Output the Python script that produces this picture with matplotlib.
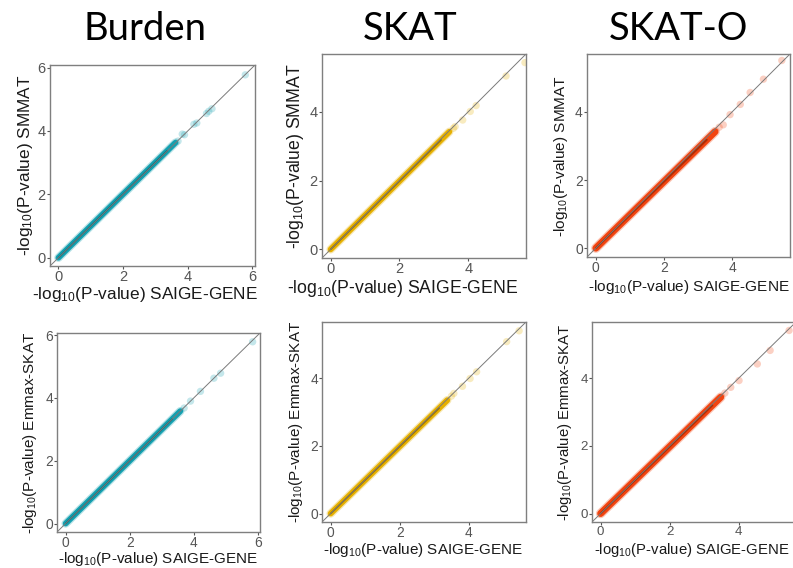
import numpy as np
import matplotlib
matplotlib.use('Agg')
import matplotlib.pyplot as plt

plt.rcParams['font.family'] = ['Liberation Sans', 'DejaVu Sans']
plt.rcParams['mathtext.default'] = 'regular'

W, H = 793, 568

titles = ['Burden', 'SKAT', 'SKAT-O']
title_x = [145, 410, 678]
colors = ['#14a0b0', '#e6b000', '#f24410']
dark_colors = ['#0a6570', '#8f6a00', '#9c2a06']
ylabels = ['SMMAT', 'Emmax-SKAT']
xlabel = '-log$_{10}$(P-value) SAIGE-GENE'

# end of the dense band of points (x, y) per panel, row-major
band_end_x = [3.62, 3.45, 3.50, 3.58, 3.38, 3.48]
band_end_y = [3.63, 3.42, 3.42, 3.58, 3.35, 3.44]
band_width = [4.2, 4.2, 5.0, 4.2, 4.2, 5.0]

# sparse tail points per panel
tail_x = [
    [3.70, 3.83, 3.90, 4.19, 4.28, 4.58, 4.65, 4.75, 5.78],
    [3.57, 3.62, 3.84, 4.06, 4.23, 5.10, 5.65],
    [3.62, 3.74, 3.94, 4.24, 4.53, 4.92, 5.46],
    [3.70, 3.90, 4.21, 4.63, 4.84, 5.84],
    [3.50, 3.57, 3.82, 4.04, 4.23, 5.10, 5.46],
    [3.60, 3.77, 4.01, 4.54, 4.91, 5.46],
]
tail_y = [
    [3.68, 3.90, 3.88, 4.21, 4.25, 4.55, 4.62, 4.70, 5.77],
    [3.52, 3.57, 3.76, 4.01, 4.18, 5.04, 5.43],
    [3.55, 3.62, 3.92, 4.22, 4.57, 4.96, 5.51],
    [3.68, 3.90, 4.21, 4.63, 4.79, 5.79],
    [3.47, 3.55, 3.76, 3.99, 4.19, 5.08, 5.40],
    [3.56, 3.73, 3.93, 4.42, 4.82, 5.41],
]

# axes boxes in pixels: left, top, right, bottom
boxes = [
    (50, 65, 255, 266), (322, 54, 526, 258), (587, 54, 790, 257),
    (57, 333, 260, 532), (322, 322, 526, 522), (592, 322, 796, 522),
]
lims = [
    (-0.26, 6.08), (-0.25, 5.68), (-0.26, 5.70),
    (-0.27, 6.07), (-0.25, 5.66), (-0.25, 5.66),
]
xticks = [[0, 2, 4, 6], [0, 2, 4], [0, 2, 4], [0, 2, 4, 6], [0, 2, 4], [0, 2, 4]]
yticks = [[0, 2, 4, 6], [0, 2, 4], [0, 2, 4], [0, 2, 4, 6], [0, 2, 4], [0, 2, 4]]
label_size = [12.4, 12.7, 11.1, 11.0, 11.0, 10.7]
xlabel_top = [285, 278, 278, 550, 541, 541]
xlabel_x = [145, 403, 689, 158, 423, 692]
ylabel_x = [26, 295, 561, 30, 296, 565]

fig = plt.figure(figsize=(W / 100, H / 100), dpi=100)

for i in range(6):
    col = i % 3
    row = i // 3
    l, t, r, b = boxes[i]
    ax = fig.add_axes([l / W, 1 - b / H, (r - l) / W, (b - t) / H])
    lo, hi = lims[i]
    ax.set_xlim(lo, hi)
    ax.set_ylim(lo, hi)

    c = colors[col]
    dc = dark_colors[col]
    ex, ey = band_end_x[i], band_end_y[i]
    bw = band_width[i]
    # dense band of overlapping points
    ax.plot([0, ex], [0, ey], color=c, lw=bw + 1.8, alpha=0.3, solid_capstyle='round')
    ax.plot([0, ex], [0, ey], color=c, lw=bw, solid_capstyle='round')
    ax.plot([0, ex * 0.93], [0, ey * 0.93], color=dc, lw=bw * 0.3, alpha=0.85,
            solid_capstyle='round')
    # sparse tail
    ax.scatter(tail_x[i], tail_y[i], s=28, color=c, alpha=0.25, edgecolors='none')

    # identity line
    ax.plot([lo, hi], [lo, hi], color='#7a7a7a', lw=0.7)

    fs = label_size[i]
    ax.set_xticks(xticks[i])
    ax.set_yticks(yticks[i])
    ax.tick_params(length=2.5, width=0.8, color='#555555', labelcolor='#555555',
                   labelsize=min(fs * 0.9, 10.5), pad=0.5)
    for s in ax.spines.values():
        s.set_color('#7f7f7f')
        s.set_linewidth(1.0)
    ax.set_xlabel(xlabel, fontsize=fs, color='#1a1a1a', va='top')
    ax.set_ylabel('-log$_{10}$(P-value) ' + ylabels[row], fontsize=fs,
                  color='#1a1a1a', va='center')
    ax.xaxis.set_label_coords((xlabel_x[i] - l) / (r - l), (b - xlabel_top[i]) / (b - t))
    ax.yaxis.set_label_coords((ylabel_x[i] - l) / (r - l), 0.5)

for i in range(3):
    fig.text(title_x[i] / W, 1 - 40 / H, titles[i], ha='center', va='baseline',
             fontsize=27.5, family=['Lato', 'DejaVu Sans'], color='black')

fig.savefig('out.png', dpi=100)
